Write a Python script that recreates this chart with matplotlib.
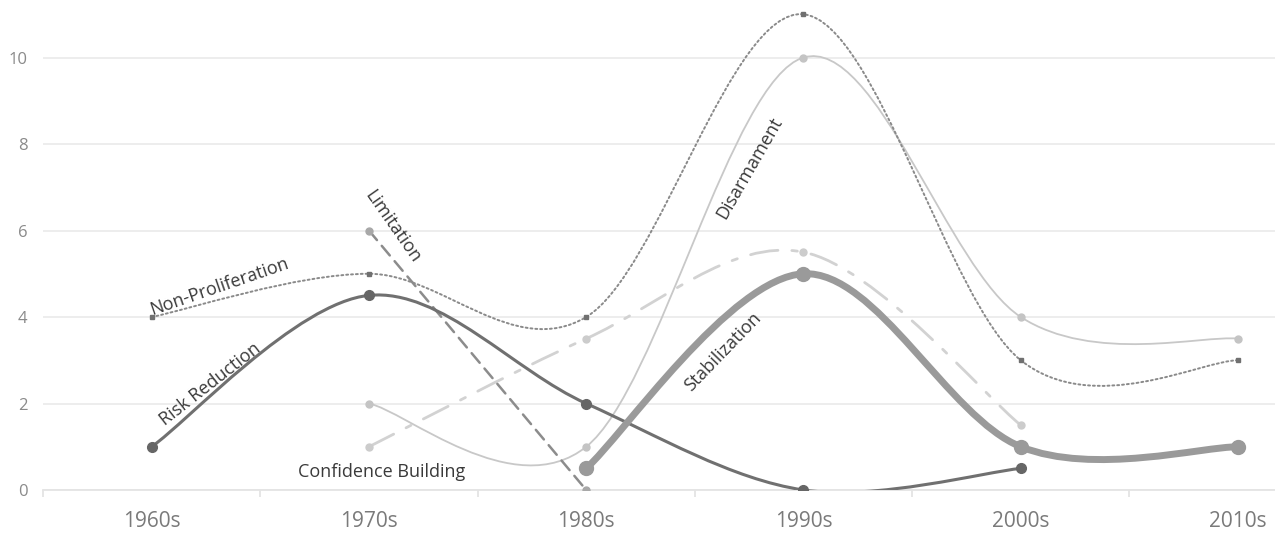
import matplotlib
matplotlib.use("Agg")
import matplotlib.pyplot as plt
from matplotlib.path import Path
from matplotlib.patches import PathPatch

plt.rcParams['font.family'] = ['Open Sans', 'DejaVu Sans']

decades = ['1960s', '1970s', '1980s', '1990s', '2000s', '2010s']

# (first decade index, values) for each treaty type
non_proliferation = (0, [4, 5, 4, 11, 3, 3])
risk_reduction = (0, [1, 4.5, 2, 0, 0.5])
limitation = (1, [6, 0])
confidence_building = (1, [1, 3.5, 5.5, 1.5])
disarmament = (1, [2, 1, 10, 4, 3.5])
stabilization = (2, [0.5, 5, 1, 1])


def smooth_path(x, y):
    # Excel-style smoothed line: cubic Bezier segments through the points
    pts = list(zip(x, y))
    verts = [pts[0]]
    codes = [Path.MOVETO]
    n = len(pts)
    for i in range(n - 1):
        p0 = pts[i - 1] if i > 0 else pts[i]
        p1 = pts[i]
        p2 = pts[i + 1]
        p3 = pts[i + 2] if i + 2 < n else pts[i + 1]
        c1 = (p1[0] + (p2[0] - p0[0]) / 6, p1[1] + (p2[1] - p0[1]) / 6)
        c2 = (p2[0] - (p3[0] - p1[0]) / 6, p2[1] - (p3[1] - p1[1]) / 6)
        verts += [c1, c2, p2]
        codes += [Path.CURVE4] * 3
    return Path(verts, codes)


fig = plt.figure(figsize=(12.75, 5.33), dpi=100)
ax = fig.add_axes([43 / 1275, 43 / 533, 1 - 43 / 1275, 490 / 533])

series = [
    (disarmament, '#c8c8c8', '-', 1.3, 'o', 5, '#c4c4c4'),
    (confidence_building, '#d2d2d2', (0, (10, 5, 2, 5)), 2.0, 'o', 5, '#cccccc'),
    (non_proliferation, '#8a8a8a', (0, (1, 1.5)), 1.4, 's', 3.5, '#707070'),
    (limitation, '#8c8c8c', (0, (5, 3)), 1.8, 'o', 5, '#a8a8a8'),
    (risk_reduction, '#707070', '-', 2.2, 'o', 7, '#666666'),
    (stabilization, '#9a9a9a', '-', 5.0, 'o', 10, '#9a9a9a'),
]

for (start, vals), col, ls, lw, mk, ms, mcol in series:
    xs = list(range(start, start + len(vals)))
    patch = PathPatch(smooth_path(xs, vals), facecolor='none', edgecolor=col,
                      linestyle=ls, linewidth=lw, capstyle='round', zorder=3)
    ax.add_patch(patch)
    ax.plot(xs, vals, linestyle='none', marker=mk, markersize=ms,
            color=mcol, zorder=4)

ax.set_xlim(-0.5, 5.17)
ax.set_ylim(0, 11.33)
ax.set_yticks([0, 2, 4, 6, 8, 10])
ax.set_xticks(range(len(decades)))
ax.set_xticklabels(decades)
ax.set_xticks([-0.5, 0.5, 1.5, 2.5, 3.5, 4.5], minor=True)
ax.grid(axis='y', color='#ececec', linewidth=1.3)
ax.set_axisbelow(True)
for s in ['top', 'right', 'left']:
    ax.spines[s].set_visible(False)
ax.spines['bottom'].set_color('#e4e4e4')
ax.spines['bottom'].set_linewidth(1.3)
ax.tick_params(axis='x', which='major', length=0, labelsize=15,
               labelcolor='#7a7a7a', pad=15)
ax.tick_params(axis='x', which='minor', length=5, color='#e4e4e4', width=1.3)
ax.tick_params(axis='y', length=0, labelsize=12, labelcolor='#8a8a8a', pad=11)

lab = dict(fontsize=13, color='#3a3a3a', ha='center', va='center',
           rotation_mode='anchor', zorder=5)
ax.text(0.31, 4.7, 'Non-Proliferation', rotation=19, **lab)
ax.text(0.27, 2.45, 'Risk Reduction', rotation=38, **lab)
ax.text(1.11, 6.1, 'Limitation', rotation=-55, **lab)
ax.text(2.75, 7.44, 'Disarmament', rotation=60, **lab)
ax.text(2.63, 3.2, 'Stabilization', rotation=46, **lab)
ax.text(1.06, 0.42, 'Confidence Building', rotation=0, **lab)

fig.savefig('out.png', dpi=100)
